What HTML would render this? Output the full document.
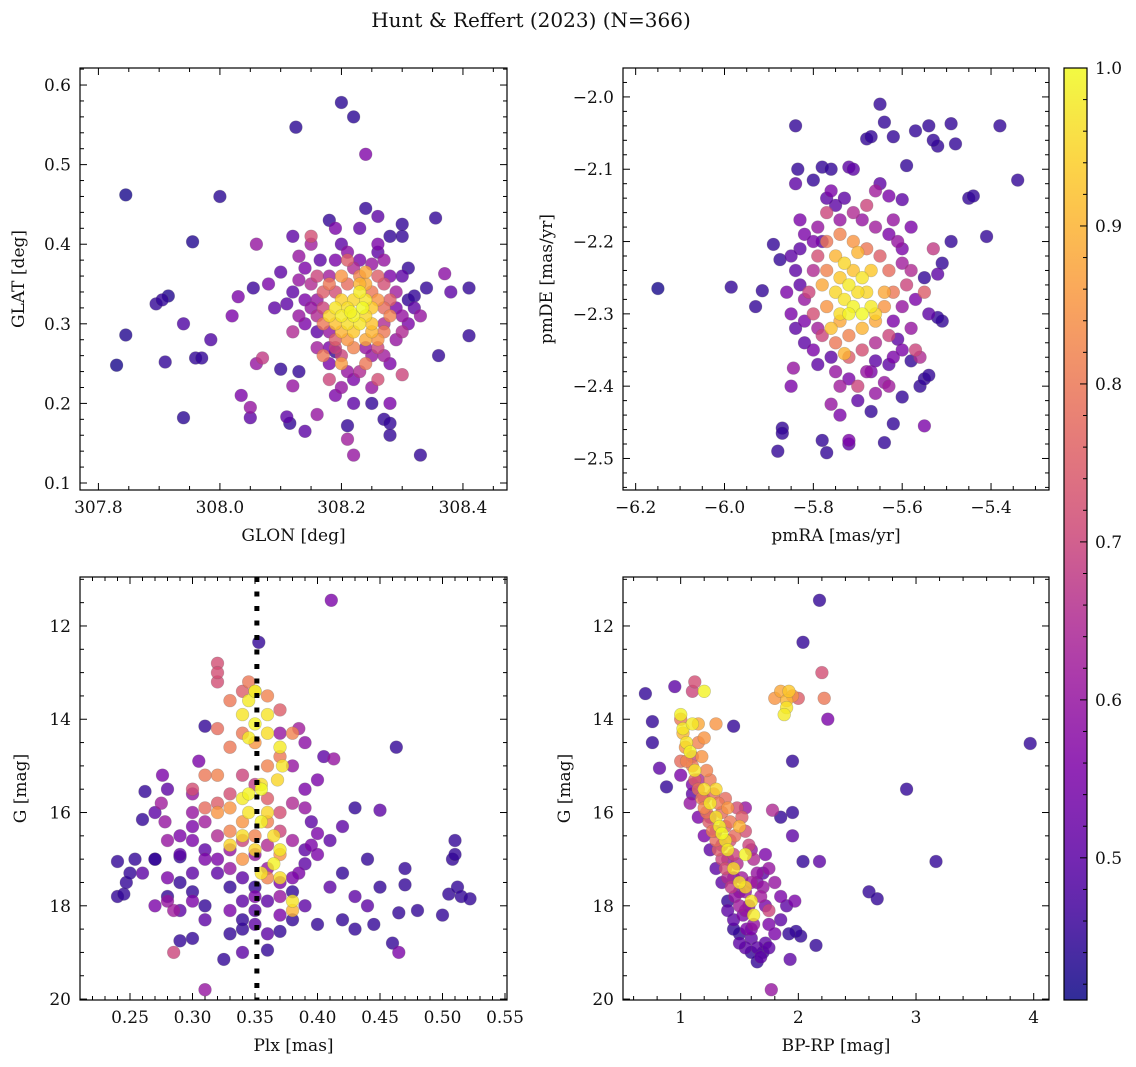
<!DOCTYPE html>
<html><head><meta charset="utf-8">
<style>
html,body{margin:0;padding:0;background:#fff;}
svg{display:block;font-family:"DejaVu Serif","Liberation Serif",serif;}
</style></head>
<body>
<svg id="fig" width="1136" height="1067" viewBox="0 0 1136 1067" xmlns="http://www.w3.org/2000/svg">
<text x="531" y="27" font-size="20" text-anchor="middle" fill="#111">Hunt &amp; Reffert (2023) (N=366)</text>
</svg>
<script>
// Panel 1: GLON, GLAT, membership probability
const skyPoints = [
[307.83,0.248,.42],[307.845,0.462,.42],[307.845,0.286,.43],[307.895,0.325,.45],[307.905,0.33,.45],[307.915,0.335,.43],[307.91,0.252,.45],[307.94,0.3,.48],[307.94,0.182,.44],[307.955,0.403,.43],[307.96,0.257,.45],[307.97,0.257,.45],[307.985,0.28,.48],[308.0,0.46,.44],[308.02,0.31,.55],[308.03,0.334,.55],[308.035,0.21,.55],[308.05,0.195,.6],[308.05,0.182,.5],[308.06,0.4,.6],[308.06,0.25,.6],[308.055,0.345,.46],[308.07,0.257,.68],[308.08,0.35,.55],[308.09,0.32,.5],[308.1,0.365,.5],[308.1,0.243,.45],[308.11,0.183,.5],[308.115,0.175,.45],[308.12,0.41,.5],[308.125,0.547,.44],[308.12,0.222,.6],[308.12,0.29,.65],[308.13,0.355,.6],[308.13,0.24,.45],[308.14,0.165,.5],[308.15,0.4,.62],[308.16,0.186,.6],[308.165,0.38,.5],[308.18,0.43,.45],[308.19,0.265,.45],[308.19,0.21,.55],[308.2,0.578,.44],[308.21,0.155,.62],[308.21,0.172,.45],[308.22,0.56,.44],[308.22,0.135,.6],[308.24,0.513,.56],[308.24,0.445,.45],[308.25,0.2,.45],[308.26,0.435,.5],[308.27,0.18,.45],[308.28,0.2,.55],[308.28,0.41,.45],[308.28,0.175,.45],[308.28,0.16,.45],[308.3,0.425,.45],[308.3,0.41,.45],[308.31,0.33,.45],[308.32,0.335,.45],[308.33,0.135,.45],[308.34,0.345,.45],[308.355,0.433,.45],[308.36,0.26,.45],[308.37,0.363,.58],[308.38,0.34,.5],[308.41,0.345,.45],[308.41,0.285,.45],[308.3,0.236,.7],[308.29,0.28,.6],[308.26,0.23,.72],[308.15,0.41,.72],[308.13,0.385,.6],[308.11,0.325,.5],[308.14,0.3,.55],[308.16,0.33,.6],[308.16,0.27,.62],[308.17,0.26,.8],[308.18,0.25,.55],[308.18,0.36,.62],[308.19,0.38,.55],[308.2,0.4,.5],[308.21,0.39,.58],[308.22,0.37,.65],[308.23,0.38,.55],[308.25,0.375,.6],[308.26,0.39,.5],[308.27,0.38,.6],[308.28,0.36,.55],[308.29,0.34,.62],[308.3,0.31,.6],[308.31,0.3,.55],[308.28,0.25,.55],[308.27,0.26,.62],[308.26,0.27,.7],[308.25,0.26,.6],[308.24,0.25,.8],[308.23,0.24,.65],[308.21,0.24,.6],[308.2,0.26,.7],[308.19,0.28,.75],[308.18,0.29,.6],[308.17,0.3,.8],[308.16,0.31,.65],[308.15,0.32,.6],[308.17,0.34,.75],[308.18,0.35,.8],[308.19,0.34,.72],[308.2,0.36,.85],[308.21,0.35,.78],[308.23,0.36,.82],[308.24,0.35,.88],[308.25,0.34,.8],[308.26,0.33,.85],[308.27,0.32,.78],[308.28,0.31,.82],[308.27,0.29,.8],[308.26,0.28,.85],[308.25,0.29,.9],[308.24,0.28,.88],[308.22,0.27,.82],[308.21,0.28,.85],[308.2,0.29,.9],[308.19,0.3,.92],[308.18,0.31,.95],[308.19,0.32,.97],[308.2,0.31,.98],[308.21,0.32,.96],[308.22,0.31,.99],[308.23,0.3,.97],[308.24,0.31,.95],[308.25,0.32,.93],[308.24,0.33,.97],[308.23,0.34,.98],[308.22,0.33,.95],[308.21,0.3,.96],[308.2,0.33,.94],[308.22,0.29,.93],[308.235,0.32,1.0],[308.215,0.315,.99],[308.25,0.3,.92],[308.23,0.35,.9],[308.24,0.365,.88],[308.26,0.36,.75],[308.19,0.27,.7],[308.27,0.35,.72],[308.2,0.25,.86],
[308.14,0.33,.55],[308.15,0.35,.65],[308.17,0.32,.7],[308.13,0.31,.6],[308.16,0.29,.5],[308.18,0.27,.55],[308.2,0.22,.6],[308.22,0.23,.55],[308.24,0.27,.6],[308.27,0.3,.65],[308.29,0.32,.55],[308.3,0.36,.5],[308.31,0.37,.45],[308.32,0.32,.5],[308.33,0.31,.6],[308.26,0.4,.55],[308.23,0.42,.5],[308.19,0.42,.55],[308.14,0.37,.55],[308.12,0.34,.5],[308.22,0.2,.5],[308.25,0.22,.6],[308.18,0.23,.7],[308.3,0.29,.65],[308.28,0.33,.75],[308.16,0.36,.7],[308.21,0.38,.75]
];
// Panel 2: pmRA, pmDE, prob
const pmPoints = [
[-6.15,-2.265,.42],[-5.985,-2.263,.45],[-5.93,-2.29,.45],[-5.915,-2.268,.45],[-5.89,-2.204,.45],[-5.875,-2.225,.45],[-5.88,-2.49,.45],[-5.87,-2.458,.45],[-5.87,-2.465,.45],[-5.85,-2.4,.55],[-5.845,-2.375,.6],[-5.84,-2.04,.45],[-5.835,-2.1,.45],[-5.84,-2.12,.5],[-5.83,-2.17,.55],[-5.78,-2.097,.45],[-5.76,-2.1,.45],[-5.72,-2.097,.5],[-5.71,-2.1,.5],[-5.8,-2.115,.45],[-5.75,-2.15,.5],[-5.77,-2.14,.5],[-5.78,-2.475,.45],[-5.77,-2.492,.45],[-5.76,-2.425,.6],[-5.72,-2.48,.5],[-5.72,-2.475,.55],[-5.67,-2.435,.45],[-5.64,-2.478,.45],[-5.63,-2.4,.62],[-5.62,-2.452,.45],[-5.6,-2.415,.45],[-5.58,-2.365,.45],[-5.56,-2.4,.45],[-5.55,-2.39,.45],[-5.54,-2.385,.45],[-5.55,-2.455,.55],[-5.51,-2.31,.45],[-5.52,-2.305,.45],[-5.54,-2.3,.5],[-5.55,-2.25,.45],[-5.52,-2.245,.5],[-5.53,-2.21,.68],[-5.51,-2.23,.45],[-5.49,-2.2,.45],[-5.45,-2.14,.45],[-5.44,-2.137,.45],[-5.41,-2.193,.45],[-5.38,-2.04,.45],[-5.34,-2.115,.45],[-5.48,-2.065,.45],[-5.49,-2.037,.45],[-5.52,-2.068,.45],[-5.54,-2.04,.45],[-5.53,-2.06,.45],[-5.57,-2.047,.45],[-5.59,-2.095,.45],[-5.6,-2.142,.5],[-5.62,-2.055,.45],[-5.64,-2.035,.45],[-5.65,-2.01,.45],[-5.68,-2.058,.45],[-5.67,-2.055,.45],[-5.66,-2.13,.62],[-5.63,-2.137,.55],[-5.58,-2.18,.55],[-5.57,-2.35,.7],[-5.56,-2.36,.65],[-5.61,-2.335,.5],[-5.62,-2.36,.55],[-5.64,-2.395,.6],[-5.66,-2.365,.5],[-5.67,-2.38,.55],[-5.7,-2.42,.5],[-5.74,-2.4,.62],[-5.76,-2.36,.5],[-5.8,-2.35,.55],[-5.82,-2.34,.5],[-5.84,-2.32,.5],[-5.85,-2.3,.55],[-5.86,-2.27,.55],[-5.84,-2.24,.5],[-5.83,-2.21,.5],[-5.82,-2.19,.55],[-5.79,-2.18,.6],[-5.77,-2.16,.7],[-5.74,-2.17,.6],[-5.71,-2.16,.65],[-5.69,-2.17,.6],[-5.66,-2.18,.62],[-5.63,-2.19,.55],[-5.61,-2.2,.6],[-5.6,-2.23,.62],[-5.59,-2.26,.7],[-5.6,-2.29,.6],[-5.62,-2.31,.55],[-5.63,-2.33,.7],[-5.66,-2.34,.65],[-5.69,-2.35,.72],[-5.72,-2.36,.75],[-5.75,-2.34,.8],[-5.78,-2.33,.7],[-5.8,-2.3,.72],[-5.81,-2.27,.7],[-5.8,-2.24,.65],[-5.79,-2.22,.72],[-5.77,-2.2,.8],[-5.74,-2.19,.82],[-5.71,-2.2,.85],[-5.68,-2.21,.8],[-5.65,-2.22,.75],[-5.63,-2.24,.78],[-5.62,-2.27,.8],[-5.64,-2.29,.85],[-5.66,-2.31,.88],[-5.69,-2.32,.9],[-5.72,-2.33,.82],[-5.74,-2.31,.88],[-5.77,-2.29,.85],[-5.78,-2.26,.88],[-5.77,-2.24,.82],[-5.75,-2.22,.9],[-5.73,-2.23,.95],[-5.71,-2.24,.92],[-5.69,-2.25,.97],[-5.68,-2.27,.95],[-5.67,-2.29,.98],[-5.69,-2.3,1.0],[-5.71,-2.29,.99],[-5.73,-2.28,.97],[-5.75,-2.27,.95],[-5.74,-2.25,.93],[-5.72,-2.26,.98],[-5.7,-2.27,.96],[-5.72,-2.3,.99],[-5.74,-2.3,.96],[-5.66,-2.3,.94],[-5.7,-2.215,.9],[-5.67,-2.24,.93],[-5.76,-2.32,.92],[-5.73,-2.355,.9],[-5.64,-2.27,.88],
[-5.82,-2.28,.6],[-5.83,-2.26,.5],[-5.8,-2.2,.55],[-5.78,-2.2,.5],[-5.76,-2.13,.55],[-5.73,-2.14,.5],[-5.68,-2.15,.7],[-5.62,-2.17,.6],[-5.6,-2.21,.55],[-5.58,-2.24,.65],[-5.57,-2.28,.55],[-5.58,-2.32,.6],[-5.6,-2.35,.55],[-5.63,-2.37,.5],[-5.68,-2.38,.6],[-5.72,-2.39,.55],[-5.75,-2.38,.6],[-5.79,-2.37,.5],[-5.82,-2.31,.55],[-5.79,-2.32,.62],[-5.7,-2.4,.7],[-5.66,-2.41,.6],[-5.74,-2.44,.55],[-5.55,-2.27,.75],[-5.85,-2.22,.5],[-5.65,-2.12,.5]
];
// Panel 3: Plx, Gmag, prob
const plxPoints = [
[0.24,17.05,.45],[0.24,17.8,.45],[0.245,17.75,.45],[0.247,17.5,.45],[0.25,17.3,.45],[0.254,17.0,.45],[0.26,16.15,.45],[0.262,15.55,.45],[0.27,17.0,.45],[0.27,17.0,.45],[0.27,16.0,.5],[0.275,15.8,.62],[0.276,15.2,.55],[0.278,16.2,.6],[0.28,15.5,.5],[0.28,17.8,.45],[0.28,17.4,.55],[0.285,18.1,.62],[0.285,19.0,.7],[0.29,18.1,.5],[0.29,16.95,.45],[0.29,18.75,.45],[0.3,18.7,.45],[0.3,17.7,.45],[0.3,16.3,.55],[0.3,15.6,.6],[0.305,14.9,.55],[0.31,19.8,.6],[0.31,18.0,.45],[0.31,14.15,.45],[0.32,12.8,.72],[0.32,13.2,.72],[0.32,13.0,.72],[0.325,19.15,.45],[0.33,18.6,.45],[0.34,18.5,.45],[0.34,18.3,.45],[0.35,18.1,.5],[0.353,12.35,.45],[0.36,18.6,.5],[0.37,18.55,.45],[0.38,18.3,.45],[0.38,18.1,.9],[0.385,17.3,.55],[0.39,18.0,.5],[0.395,16.7,.55],[0.4,18.4,.45],[0.41,17.6,.5],[0.411,11.45,.55],[0.413,14.85,.6],[0.42,18.3,.45],[0.42,16.3,.5],[0.43,15.9,.45],[0.43,18.5,.45],[0.44,17.0,.45],[0.44,18.0,.5],[0.445,18.4,.45],[0.45,17.6,.45],[0.45,15.95,.5],[0.46,18.8,.45],[0.463,14.6,.45],[0.465,18.15,.45],[0.465,19.0,.55],[0.47,17.55,.45],[0.47,17.2,.45],[0.48,18.1,.45],[0.5,18.2,.45],[0.505,17.75,.45],[0.508,17.0,.45],[0.51,16.6,.45],[0.51,16.9,.45],[0.512,17.6,.45],[0.515,17.8,.45],[0.522,17.85,.45],[0.4,16.45,.55],[0.395,16.2,.5],[0.39,15.9,.6],[0.4,15.3,.55],[0.405,14.8,.5],[0.39,14.5,.58],[0.385,14.2,.62],[0.37,14.3,.6],[0.38,15.0,.6],[0.39,17.1,.5],[0.38,17.7,.45],[0.37,17.5,.55],[0.36,17.2,.6],[0.35,17.6,.45],[0.34,17.9,.5],[0.33,17.6,.45],[0.32,17.3,.5],[0.31,17.0,.55],[0.3,17.3,.5],[0.29,17.5,.45],[0.28,16.6,.6],[0.29,16.5,.55],[0.3,16.0,.6],[0.31,16.2,.62],[0.32,16.5,.65],[0.33,16.8,.6],[0.34,16.6,.7],[0.35,16.9,.6],[0.36,16.7,.65],[0.37,16.4,.7],[0.38,16.6,.62],[0.37,16.0,.72],[0.36,15.7,.75],[0.35,15.4,.68],[0.34,15.2,.7],[0.33,15.6,.72],[0.32,15.8,.75],[0.31,15.9,.78],[0.3,15.5,.72],[0.31,15.2,.8],[0.32,15.2,.82],[0.33,14.6,.8],[0.32,14.2,.78],[0.33,13.6,.8],[0.34,13.4,.75],[0.345,13.2,.8],[0.36,13.5,.82],[0.37,13.8,.75],[0.38,14.3,.82],[0.37,14.8,.8],[0.36,15.0,.82],[0.35,14.5,.85],[0.34,14.3,.8],[0.33,15.9,.85],[0.34,16.2,.85],[0.35,16.5,.82],[0.36,16.2,.82],[0.37,16.9,.85],[0.36,17.4,.82],[0.34,17.0,.85],[0.33,16.4,.82],[0.32,16.0,.85],[0.35,13.4,.88],[0.345,13.6,.98],[0.34,13.9,.97],[0.35,14.1,.99],[0.36,14.3,.96],[0.37,14.6,.98],[0.372,15.0,.97],[0.368,15.3,.95],[0.355,15.4,.96],[0.345,15.6,.99],[0.34,15.7,.98],[0.345,16.0,.97],[0.355,16.2,.99],[0.365,16.5,.96],[0.37,16.8,.98],[0.365,17.1,.99],[0.355,17.3,.97],[0.35,16.8,.95],[0.34,16.5,.96],[0.33,16.7,.95],[0.355,15.5,1.0],[0.35,13.4,.99],[0.36,13.9,.97],[0.345,14.4,.98],[0.36,16.0,.95],[0.38,17.9,.97],[0.37,17.4,.96],
[0.3,16.6,.55],[0.31,16.8,.5],[0.32,17.0,.55],[0.33,17.2,.6],[0.34,17.4,.5],[0.35,17.8,.55],[0.36,17.9,.5],[0.37,17.8,.6],[0.38,17.4,.55],[0.39,16.8,.5],[0.4,16.9,.55],[0.41,16.6,.5],[0.38,15.8,.65],[0.39,15.5,.55],[0.3,17.9,.55],[0.31,18.3,.5],[0.33,18.1,.55],[0.35,18.4,.5],[0.37,18.2,.55],[0.29,16.9,.5],[0.28,17.9,.6],[0.42,17.3,.45],[0.43,17.8,.5],[0.26,17.3,.5],[0.27,18.0,.55],[0.36,18.95,.45],[0.34,19.0,.5]
];
// Panel 4: BP-RP, Gmag, prob
const cmdPoints = [
[0.7,13.45,.45],[0.76,14.05,.45],[0.76,14.5,.45],[0.82,15.05,.5],[0.88,15.45,.45],[0.95,13.3,.5],[1.0,15.2,.55],[1.1,15.4,.55],[1.1,15.6,.5],[1.45,14.15,.45],[1.95,14.9,.45],[1.95,16.0,.45],[1.85,16.1,.45],[1.95,16.5,.5],[1.97,17.9,.55],[1.78,15.95,.65],[2.04,12.35,.45],[2.18,11.45,.45],[2.04,17.05,.45],[2.18,17.05,.5],[2.2,13.0,.72],[2.25,14.0,.55],[2.02,18.65,.45],[1.98,18.55,.45],[1.92,18.6,.45],[1.93,19.15,.5],[1.77,19.8,.6],[2.6,17.7,.45],[2.67,17.85,.45],[2.92,15.5,.45],[3.17,17.05,.45],[3.97,14.52,.45],[2.15,18.85,.45],
[1.0,14.0,.8],[1.02,14.3,.9],[1.04,14.6,.85],[1.05,14.9,.82],[1.1,15.0,.8],[1.12,15.3,.75],[1.15,15.5,.78],[1.18,15.7,.8],[1.2,15.9,.82],[1.22,16.0,.8],[1.24,16.2,.75],[1.27,16.4,.8],[1.3,16.6,.78],[1.32,16.8,.75],[1.35,17.0,.7],[1.38,17.2,.72],[1.4,17.4,.65],[1.43,17.6,.68],[1.46,17.8,.6],[1.5,18.0,.62],[1.53,18.2,.55],[1.56,18.5,.55],[1.6,18.7,.5],[1.65,18.9,.5],[1.7,19.0,.45],[1.62,18.4,.6],[1.58,18.0,.6],[1.55,17.7,.6],[1.52,17.4,.62],[1.48,17.1,.65],[1.45,16.9,.7],[1.42,16.6,.72],[1.38,16.3,.75],[1.35,16.0,.78],[1.32,15.8,.8],[1.28,15.6,.78],[1.25,15.3,.8],[1.22,15.1,.82],[1.18,14.8,.85],[1.15,14.5,.82],[1.2,14.4,.85],[1.3,14.1,.85],[1.12,13.2,.72],[1.1,13.4,.7],[1.0,14.9,.78],[1.08,15.8,.6],[1.15,16.1,.55],[1.2,16.5,.55],[1.25,16.8,.5],[1.3,17.2,.5],[1.35,17.5,.5],[1.4,17.9,.45],[1.45,18.3,.5],[1.5,18.6,.45],[1.55,18.9,.5],[1.65,19.2,.45],[1.72,18.8,.5],[1.75,18.4,.55],[1.72,18.0,.55],[1.7,17.6,.6],[1.65,17.3,.6],[1.62,17.0,.65],[1.58,16.7,.7],[1.55,16.4,.72],[1.52,16.1,.75],[1.48,15.9,.72],[1.55,15.9,.6],[1.75,17.2,.6],[1.8,17.5,.6],[1.85,17.8,.55],[1.75,18.1,.7],[1.68,17.8,.62],[1.6,17.5,.62],[1.46,16.5,.78],[1.42,16.2,.8],[1.4,15.9,.85],[1.38,15.7,.78],[1.8,13.55,.85],[1.85,13.4,.88],[1.9,13.6,.9],[1.95,13.5,.85],[2.0,13.55,.75],[2.22,13.55,.8],[1.88,13.9,.98],[1.9,13.75,.97],[1.92,13.4,.93],[1.2,13.4,.99],[1.0,13.9,.99],[1.02,14.2,.98],[1.05,14.5,.97],[1.08,14.7,.99],[1.1,14.1,.98],[1.12,15.1,.97],[1.2,15.5,.96],[1.25,15.8,.98],[1.3,16.1,.97],[1.33,16.3,.99],[1.38,16.6,.97],[1.4,16.8,.98],[1.45,17.2,.96],[1.5,17.5,.97],[1.55,17.6,.95],[1.6,17.9,.97],[1.62,18.2,.98],[1.55,16.9,.99],[1.35,16.45,1.0],[1.3,15.5,.95],[1.15,14.1,.88],[1.5,16.3,.9],
[1.4,18.1,.5],[1.45,18.5,.45],[1.5,18.8,.5],[1.6,19.0,.45],[1.68,19.1,.5],[1.75,18.9,.5],[1.8,18.6,.55],[1.85,18.3,.5],[1.9,18.0,.5],[1.6,18.5,.55],[1.55,18.1,.6],[1.5,17.7,.55],[1.45,17.4,.55],[1.4,17.0,.6],[1.35,16.7,.65],[1.3,16.4,.6],[1.25,16.1,.62],[1.2,15.7,.65],[1.15,15.3,.65],[1.1,14.8,.7],[1.65,17.5,.55],[1.7,17.3,.5],[1.72,16.9,.55],[1.6,16.8,.6]
];
// Colorbar ticks
const cbarTicks = [0.5,0.6,0.7,0.8,0.9,1.0];
const vmin = 0.41, vmax = 1.0;

const NS = "http://www.w3.org/2000/svg";
const svg = document.getElementById('fig');
function mk(tag, attrs, parent){
  const e = document.createElementNS(NS, tag);
  for (const k in attrs) e.setAttribute(k, attrs[k]);
  (parent||svg).appendChild(e);
  return e;
}
const stops = [[0,[13,8,135]],[0.13,[84,2,163]],[0.25,[126,3,168]],[0.38,[166,32,152]],[0.5,[204,71,120]],[0.63,[230,108,92]],[0.75,[248,149,64]],[0.88,[253,197,39]],[1,[240,249,33]]];
function plasma(t){
  t = Math.max(0, Math.min(1, t));
  for (let i=1;i<stops.length;i++){
    if (t <= stops[i][0]){
      const a=stops[i-1], b=stops[i], f=(t-a[0])/(b[0]-a[0]);
      const c=a[1].map((v,j)=>Math.round(v+(b[1][j]-v)*f));
      return `rgb(${c[0]},${c[1]},${c[2]})`;
    }
  }
  return 'rgb(240,249,33)';
}
function fmt(v, d){ const s = v.toFixed(d); return s.replace('-', '\u2212'); }

function panel(cfg){
  const {name,x0,x1,y0,y1,xmin,xmax,ymin,ymax,invertY,xMaj,xMin,yMaj,yMin,xDec,yDec,xlabel,ylabel,points} = cfg;
  const sx = v => x0 + (v - xmin)/(xmax - xmin)*(x1 - x0);
  const sy = invertY ? (v => y0 + (v - ymin)/(ymax - ymin)*(y1 - y0)) : (v => y1 - (v - ymin)/(ymax - ymin)*(y1 - y0));
  const g = mk('g', {});
  
  
  const clipId = name + '-clip';
  const cp = mk('clipPath', {id: clipId}, g);
  mk('rect', {x:x0,y:y0,width:x1-x0,height:y1-y0}, cp);
  const pg = mk('g', {'clip-path': `url(#${clipId})`}, g);
  
  
  const sorted = points.slice().sort((a,b)=>a[2]-b[2]);
  sorted.forEach(p=>{
    const c = mk('circle', {cx:sx(p[0]).toFixed(1), cy:sy(p[1]).toFixed(1), r:6.4, fill:plasma((p[2]-vmin)/(vmax-vmin)), 'fill-opacity':0.8, stroke:'#666', 'stroke-opacity':0.35, 'stroke-width':0.6}, pg);
    
    
  });
  if (cfg.vline !== undefined){
    const l = mk('line', {x1:sx(cfg.vline), x2:sx(cfg.vline), y1:y0, y2:y1, stroke:'#000', 'stroke-width':5, 'stroke-dasharray':'5 9.5'}, pg);
    
    
  }
  const tk = mk('g', {stroke:'#000','stroke-width':1}, g);
  const eps = 1e-9;
  for (let v = Math.ceil(xmin/xMin)*xMin; v <= xmax+eps; v += xMin){
    const X = sx(v), maj = Math.abs(v/xMaj - Math.round(v/xMaj)) < 1e-6, L = maj?7:4;
    mk('line',{x1:X,x2:X,y1:y1,y2:y1-L},tk); mk('line',{x1:X,x2:X,y1:y0,y2:y0+L},tk);
    if (maj){
      const t = mk('text',{x:X,y:y1+23,'font-size':17,'text-anchor':'middle',fill:'#111',stroke:'none'},g);
      t.textContent = fmt(Math.round(v/xMaj)*xMaj, xDec);
       
    }
  }
  for (let v = Math.ceil(ymin/yMin)*yMin; v <= ymax+eps; v += yMin){
    const Y = sy(v), maj = Math.abs(v/yMaj - Math.round(v/yMaj)) < 1e-6, L = maj?7:4;
    mk('line',{x1:x0,x2:x0+L,y1:Y,y2:Y},tk); mk('line',{x1:x1,x2:x1-L,y1:Y,y2:Y},tk);
    if (maj){
      const t = mk('text',{x:x0-9,y:Y+6,'font-size':17,'text-anchor':'end',fill:'#111',stroke:'none'},g);
      t.textContent = fmt(Math.round(v/yMaj)*yMaj, yDec);
       
    }
  }
  mk('rect',{x:x0,y:y0,width:x1-x0,height:y1-y0,fill:'none',stroke:'#000','stroke-width':1.2},g);
  const xl = mk('text',{x:(x0+x1)/2,y:y1+51,'font-size':17,'text-anchor':'middle',fill:'#111'},g);
  xl.textContent = xlabel;
   
  const yl = mk('text',{x:0,y:0,'font-size':17,'text-anchor':'middle',fill:'#111',transform:`translate(${cfg.ylx},${(y0+y1)/2}) rotate(-90)`},g);
  yl.textContent = ylabel;
   
}

panel({name:'sky',x0:80,x1:507,y0:68,y1:490,xmin:307.7697,xmax:308.4725,ymin:0.0912,ymax:0.6214,xMaj:0.2,xMin:0.05,yMaj:0.1,yMin:0.02,xDec:1,yDec:1,xlabel:'GLON [deg]',ylabel:'GLAT [deg]',ylx:24,points:skyPoints});
panel({name:'proper-motion',x0:623,x1:1049,y0:68,y1:490,xmin:-6.2285,xmax:-5.2695,ymin:-2.5436,ymax:-1.960,xMaj:0.2,xMin:0.05,yMaj:0.1,yMin:0.02,xDec:1,yDec:1,xlabel:'pmRA [mas/yr]',ylabel:'pmDE [mas/yr]',ylx:552,points:pmPoints});
panel({name:'parallax-mag',x0:80,x1:507,y0:577,y1:1000,xmin:0.2100,xmax:0.5516,ymin:10.95,ymax:20.02,invertY:true,xMaj:0.05,xMin:0.01,yMaj:2,yMin:0.5,xDec:2,yDec:0,xlabel:'Plx [mas]',ylabel:'G [mag]',ylx:26,points:plxPoints,vline:0.3515});
panel({name:'cmd',x0:623,x1:1049,y0:577,y1:1000,xmin:0.51,xmax:4.13,ymin:10.95,ymax:20.02,invertY:true,xMaj:1,xMin:0.2,yMaj:2,yMin:0.5,xDec:0,yDec:0,xlabel:'BP-RP [mag]',ylabel:'G [mag]',ylx:570,points:cmdPoints});

// colorbar
(function(){
  const cx0=1064, cx1=1087, cy0=68, cy1=1000;
  const g = mk('g',{});
  
  
  const defs = mk('defs',{},g);
  const lg = mk('linearGradient',{id:'cbgrad',x1:0,y1:1,x2:0,y2:0},defs);
  for (let i=0;i<=20;i++){ mk('stop',{offset:(i/20),'stop-color':plasma(i/20),'stop-opacity':0.85},lg); }
  mk('rect',{x:cx0,y:cy0,width:cx1-cx0,height:cy1-cy0,fill:'url(#cbgrad)',stroke:'#000','stroke-width':1.2},g);
  const sy = v => cy1 - (v-vmin)/(vmax-vmin)*(cy1-cy0);
  for (let v=0.42; v<=1.0001; v+=0.02){
    const Y = sy(v), maj = Math.abs(v*10-Math.round(v*10))<1e-6;
    mk('line',{x1:cx1,x2:cx1-(maj?7:4),y1:Y,y2:Y,stroke:'#000','stroke-width':1},g);
  }
  cbarTicks.forEach(v=>{
    const t = mk('text',{x:cx1+8,y:sy(v)+6,'font-size':17,fill:'#111'},g);
    t.textContent = v.toFixed(1);
    
    
  });
})();
</script>
</body></html>
